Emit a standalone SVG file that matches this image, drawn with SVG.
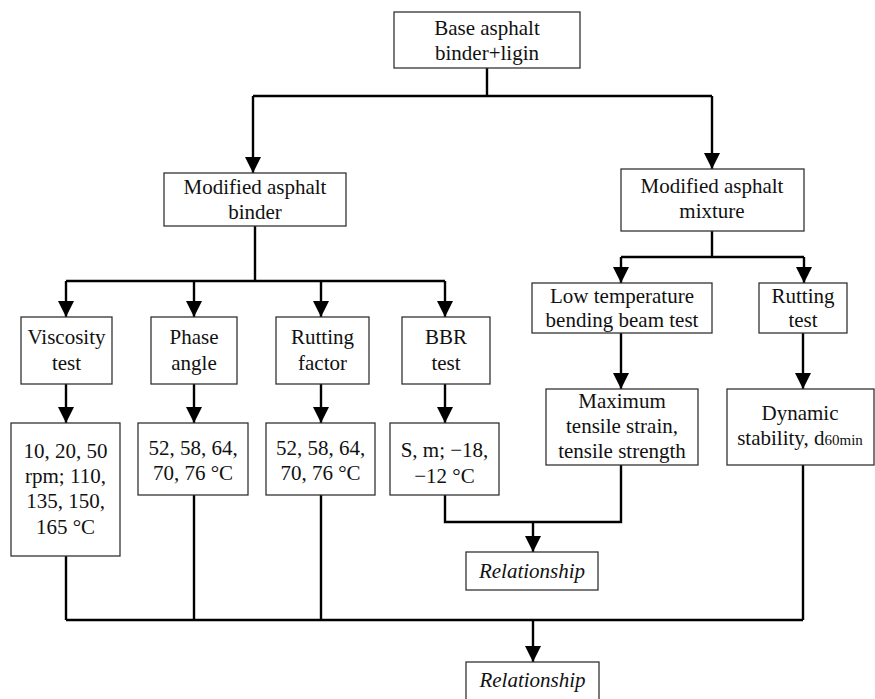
<svg xmlns="http://www.w3.org/2000/svg" width="875" height="699" viewBox="0 0 875 699">
<defs>
<marker id="ah" markerUnits="userSpaceOnUse" markerWidth="16" markerHeight="16" refX="16" refY="8" orient="auto">
<path d="M0,0 L16,8 L0,16 z" fill="#000"/>
</marker>
<style>
.box{fill:#fff;stroke:#333;stroke-width:1.3}
text{font-family:'Liberation Serif','Times New Roman','DejaVu Serif',serif;font-size:21px;fill:#111;text-anchor:middle}
.i{font-style:italic}
.c{fill:none;stroke:#000;stroke-width:2.4}
.a{fill:none;stroke:#000;stroke-width:2.4;marker-end:url(#ah)}
</style>
</defs>
<rect width="875" height="699" fill="#fff"/>
<g id="connectors">
<path class="c" d="M487,68 V96 M253,96 H712"/>
<path class="a" d="M253,96 V173"/>
<path class="a" d="M712,96 V169"/>
<path class="c" d="M255,226 V281 M66,281 H445"/>
<path class="a" d="M66,281 V317"/>
<path class="a" d="M194,281 V317"/>
<path class="a" d="M321,281 V317"/>
<path class="a" d="M445,281 V317"/>
<path class="a" d="M66,384 V423"/>
<path class="a" d="M194,384 V423"/>
<path class="a" d="M321,384 V423"/>
<path class="a" d="M445,384 V423"/>
<path class="c" d="M712,231 V257 M621,257 H804"/>
<path class="a" d="M621,257 V283"/>
<path class="a" d="M804,257 V283"/>
<path class="a" d="M621,333 V389"/>
<path class="a" d="M803,333 V389"/>
<path class="c" d="M445,495 V522 H621 V465"/>
<path class="a" d="M533,522 V552"/>
<path class="c" d="M66,556 V620 M194,495 V620 M321,495 V620 M803,465 V620 M66,620 H803"/>
<path class="a" d="M533,620 V662"/>
</g>
<g id="base">
<rect class="box" x="394" y="12" width="186" height="56"/>
<text x="487" y="35" font-family="Liberation Serif, serif">Base asphalt</text>
<text x="487" y="60" font-family="Liberation Serif, serif">binder+ligin</text>
</g>
<g id="binder">
<rect class="box" x="164" y="173" width="182" height="53"/>
<text x="255" y="194" font-family="Liberation Serif, serif">Modified asphalt</text>
<text x="255" y="219" font-family="Liberation Serif, serif">binder</text>
</g>
<g id="mixture">
<rect class="box" x="621" y="169" width="183" height="62"/>
<text x="712" y="193" font-family="Liberation Serif, serif">Modified asphalt</text>
<text x="712" y="218" font-family="Liberation Serif, serif">mixture</text>
</g>
<g id="viscosity">
<rect class="box" x="21" y="317" width="91" height="67"/>
<text x="66.5" y="344" font-family="Liberation Serif, serif">Viscosity</text>
<text x="66.5" y="370" font-family="Liberation Serif, serif">test</text>
</g>
<g id="phase">
<rect class="box" x="151" y="317" width="86" height="67"/>
<text x="194" y="344" font-family="Liberation Serif, serif">Phase</text>
<text x="194" y="370" font-family="Liberation Serif, serif">angle</text>
</g>
<g id="rutfactor">
<rect class="box" x="276" y="317" width="93" height="67"/>
<text x="322.5" y="344" font-family="Liberation Serif, serif">Rutting</text>
<text x="322.5" y="370" font-family="Liberation Serif, serif">factor</text>
</g>
<g id="bbr">
<rect class="box" x="402" y="317" width="88" height="67"/>
<text x="446" y="344" font-family="Liberation Serif, serif">BBR</text>
<text x="446" y="370" font-family="Liberation Serif, serif">test</text>
</g>
<g id="viscvals">
<rect class="box" x="11" y="423" width="109" height="133"/>
<text x="65.5" y="458" font-family="Liberation Serif, serif">10, 20, 50</text>
<text x="65.5" y="483" font-family="Liberation Serif, serif">rpm; 110,</text>
<text x="65.5" y="508" font-family="Liberation Serif, serif">135, 150,</text>
<text x="65.5" y="534" font-family="Liberation Serif, serif">165 °C</text>
</g>
<g id="phasevals">
<rect class="box" x="138" y="423" width="110" height="72"/>
<text x="193" y="455" font-family="Liberation Serif, serif">52, 58, 64,</text>
<text x="193" y="480" font-family="Liberation Serif, serif">70, 76 °C</text>
</g>
<g id="rutvals">
<rect class="box" x="266" y="423" width="109" height="72"/>
<text x="320.5" y="455" font-family="Liberation Serif, serif">52, 58, 64,</text>
<text x="320.5" y="480" font-family="Liberation Serif, serif">70, 76 °C</text>
</g>
<g id="bbrvals">
<rect class="box" x="390" y="423" width="109" height="72"/>
<text x="444.5" y="457" font-family="Liberation Serif, serif">S, m; −18,</text>
<text x="444.5" y="483" font-family="Liberation Serif, serif">−12 °C</text>
</g>
<g id="lowtemp">
<rect class="box" x="532" y="283" width="180" height="50"/>
<text x="622" y="303" font-family="Liberation Serif, serif">Low temperature</text>
<text x="622" y="327" font-family="Liberation Serif, serif">bending beam test</text>
</g>
<g id="ruttest">
<rect class="box" x="759" y="283" width="88" height="50"/>
<text x="803" y="303" font-family="Liberation Serif, serif">Rutting</text>
<text x="803" y="327" font-family="Liberation Serif, serif">test</text>
</g>
<g id="tensile">
<rect class="box" x="546" y="389" width="152" height="76"/>
<text x="622" y="408" font-family="Liberation Serif, serif">Maximum</text>
<text x="622" y="433" font-family="Liberation Serif, serif">tensile strain,</text>
<text x="622" y="458" font-family="Liberation Serif, serif">tensile strength</text>
</g>
<g id="dynamic">
<rect class="box" x="727" y="389" width="147" height="76"/>
<text x="800" y="420" font-family="Liberation Serif, serif">Dynamic</text>
<text x="800" y="445" font-family="Liberation Serif, serif">stability, d<tspan font-size="15">60min</tspan></text>
</g>
<g id="rel1">
<rect class="box" x="466" y="552" width="132" height="38"/>
<text class="i" x="532" y="578" font-family="Liberation Serif, serif">Relationship</text>
</g>
<g id="rel2">
<rect class="box" x="466" y="662" width="133" height="42"/>
<text class="i" x="532.5" y="687" font-family="Liberation Serif, serif">Relationship</text>
</g>
</svg>
